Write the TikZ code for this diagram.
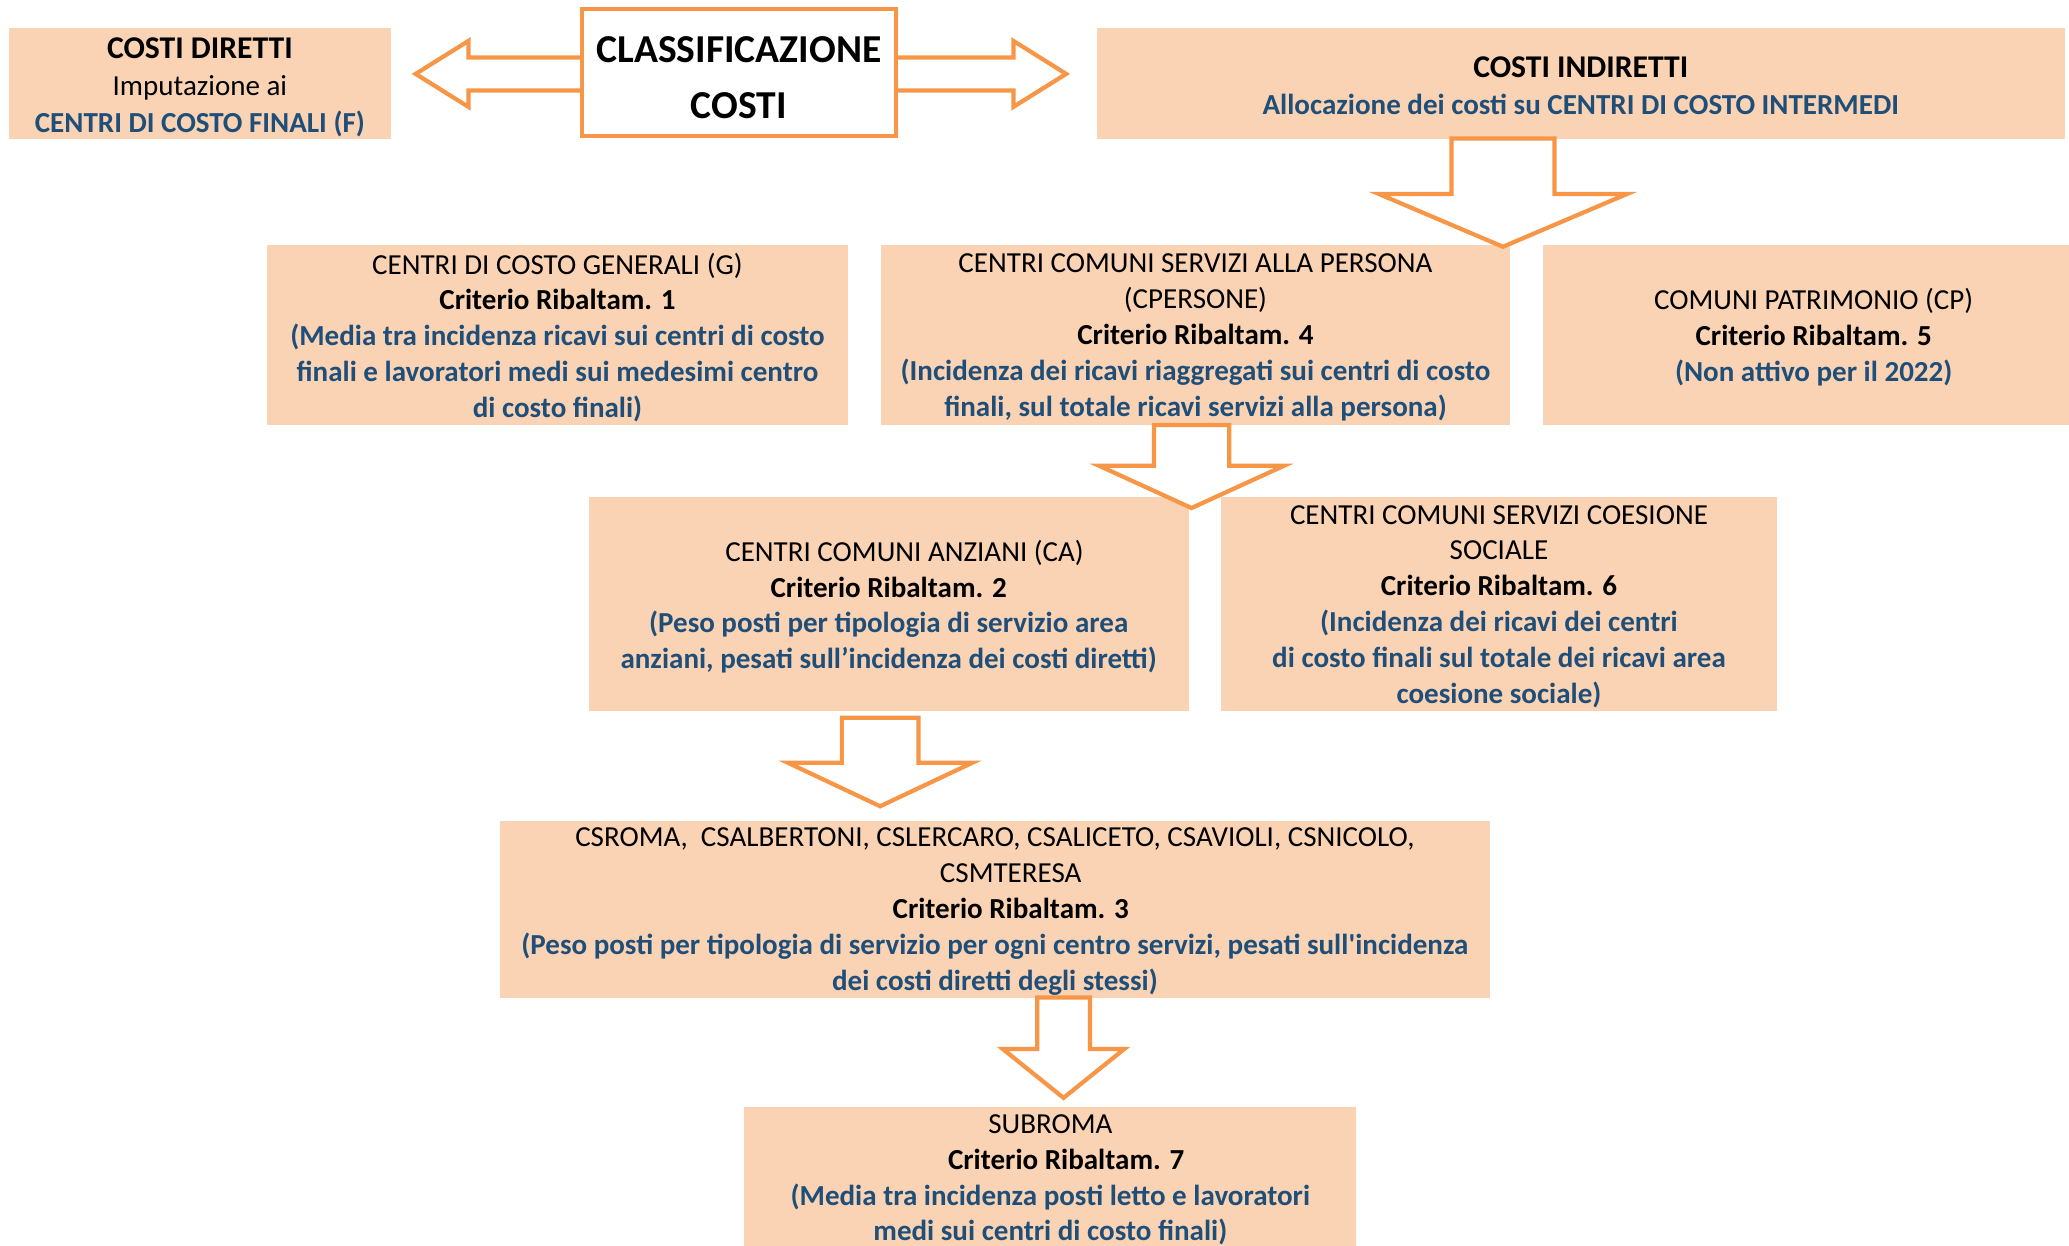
\documentclass[tikz,border=0pt]{standalone}
\usepackage{fontspec}
\setmainfont{Carlito}[Ligatures=TeXOff]
\usepackage{xcolor}
\usetikzlibrary {calc}
\definecolor{boxfill}{HTML}{FAD3B4}
\definecolor{arroworange}{HTML}{F79646}
\definecolor{textblue}{HTML}{1F4E79}
\tikzset{
    costbox/.style={fill=boxfill, inner sep=0pt, align=center,
        font=\fontsize{11}{13.6}\selectfont, text depth=0pt},
    headbox/.style={costbox, font=\fontsize{11}{14}\selectfont},
    titlebox/.style={draw=arroworange, line width=1.6pt, fill=white,
        inner sep=0pt, align=center, font=\fontsize{15}{21}\selectfont\bfseries,
        text height=34.5pt, text depth=0pt},
    blockarrow/.style={draw=arroworange, line width=1.6pt, fill=white}
}
\newcommand{\blu}[1]{\textcolor{textblue}{\textbf{#1}}}
\newcommand{\headtxt}[1]{{\fontsize{12}{14}\selectfont\textbf{#1}}}
% start, tip, shaft half width, head half width, head length
\newcommand{\downblock}[5]{%
    \draw[blockarrow] ($(#1)+(-#3,0)$) -- ($(#1)+(#3,0)$) -- ($(#2)+(#3,-#5)$)
        -- ($(#2)+(#4,-#5)$) -- (#2) -- ($(#2)+(-#4,-#5)$) -- ($(#2)+(-#3,-#5)$) -- cycle;
}
\begin{document}
\begin{tikzpicture}[x=0.5pt, y=-0.5pt]
    \useasboundingbox (0, 0) rectangle (1568, 944);
    % boxes
    \node[headbox, minimum width=144.5pt, minimum height=42pt, text height=37.6pt] (diretti) at (151.5, 63)
        {\headtxt{COSTI DIRETTI}\\ Imputazione ai\\ \blu{CENTRI DI COSTO FINALI (F)}};
    \node[headbox, minimum width=367pt, minimum height=42pt, text height=23.6pt] (indiretti) at (1198, 63)
        {\headtxt{COSTI INDIRETTI}\\ \blu{Allocazione dei costi su CENTRI DI COSTO INTERMEDI}};
    \node[costbox, minimum width=220.5pt, minimum height=68pt] (generali) at (422.5, 254)
        {CENTRI DI COSTO GENERALI (G)\\ \textbf{Criterio Ribaltam. 1}\\
         \blu{(Media tra incidenza ricavi sui centri di costo}\\
         \blu{finali e lavoratori medi sui medesimi centro}\\ \blu{di costo finali)}};
    \node[costbox, minimum width=238pt, minimum height=68pt] (persona) at (906, 254)
        {CENTRI COMUNI SERVIZI ALLA PERSONA\\ (CPERSONE)\\ \textbf{Criterio Ribaltam. 4}\\
         \blu{(Incidenza dei ricavi riaggregati sui centri di costo}\\
         \blu{finali, sul totale ricavi servizi alla persona)}};
    \node[costbox, minimum width=205.5pt, minimum height=68pt] (patrimonio) at (1374.5, 254)
        {COMUNI PATRIMONIO (CP)\\ \textbf{Criterio Ribaltam. 5}\\ \blu{(Non attivo per il 2022)}};
    \node[costbox, minimum width=227.5pt, minimum height=81pt] (anziani) at (673.5, 458)
        {\hspace*{12pt}CENTRI COMUNI ANZIANI (CA)\\ \textbf{Criterio Ribaltam. 2}\\
         \blu{(Peso posti per tipologia di servizio area}\\
         \blu{anziani, pesati sull’incidenza dei costi diretti)}};
    \node[costbox, minimum width=211pt, minimum height=81pt] (coesione) at (1136, 458)
        {CENTRI COMUNI SERVIZI COESIONE\\ SOCIALE\\ \textbf{Criterio Ribaltam. 6}\\
         \blu{(Incidenza dei ricavi dei centri}\\ \blu{di costo finali sul totale dei ricavi area}\\
         \blu{coesione sociale)}};
    \node[costbox, minimum width=375pt, minimum height=67pt] (servizi) at (754, 689)
        {CSROMA,\ \ CSALBERTONI, CSLERCARO, CSALICETO, CSAVIOLI, CSNICOLO,\\
         \hspace*{12pt}CSMTERESA\\ \hspace*{12pt}\textbf{Criterio Ribaltam. 3}\\
         \blu{(Peso posti per tipologia di servizio per ogni centro servizi, pesati sull'incidenza}\\
         \blu{dei costi diretti degli stessi)}};
    \node[costbox, minimum width=232pt, minimum height=53.5pt] (subroma) at (796, 892.5)
        {SUBROMA\\ \hspace*{12pt}\textbf{Criterio Ribaltam. 7}\\
         \blu{(Media tra incidenza posti letto e lavoratori}\\ \blu{medi sui centri di costo finali)}};
    % double arrow behind the title
    \coordinate (tipl) at (315, 56);
    \coordinate (tipr) at (808, 56);
    \draw[blockarrow] (tipl) -- ($(tipl)+(40,-25)$) -- ($(tipl)+(40,-12.5)$)
        -- ($(tipr)+(-40,-12.5)$) -- ($(tipr)+(-40,-25)$) -- (tipr)
        -- ($(tipr)+(-40,25)$) -- ($(tipr)+(-40,12.5)$) -- ($(tipl)+(40,12.5)$)
        -- ($(tipl)+(40,25)$) -- cycle;
    \node[titlebox, minimum width=119pt, minimum height=48pt] (classif) at (560, 55)
        {CLASSIFICAZIONE\\ COSTI};
    % down arrows
    \coordinate (a1s) at (1139, 105);  \coordinate (a1t) at (1139, 187);
    \coordinate (a2s) at (903, 322);   \coordinate (a2t) at (903, 385);
    \coordinate (a3s) at (667, 544);   \coordinate (a3t) at (667, 611);
    \coordinate (a4s) at (806, 756);   \coordinate (a4t) at (806, 832);
    \foreach \s/\t/\w/\h/\l in {a1s/a1t/39/94/40, a2s/a2t/28.5/70/32,
                                a3s/a3t/29/70/33, a4s/a4t/20/46/37}{
        \downblock{\s}{\t}{\w}{\h}{\l}
    }
\end{tikzpicture}
\end{document}
